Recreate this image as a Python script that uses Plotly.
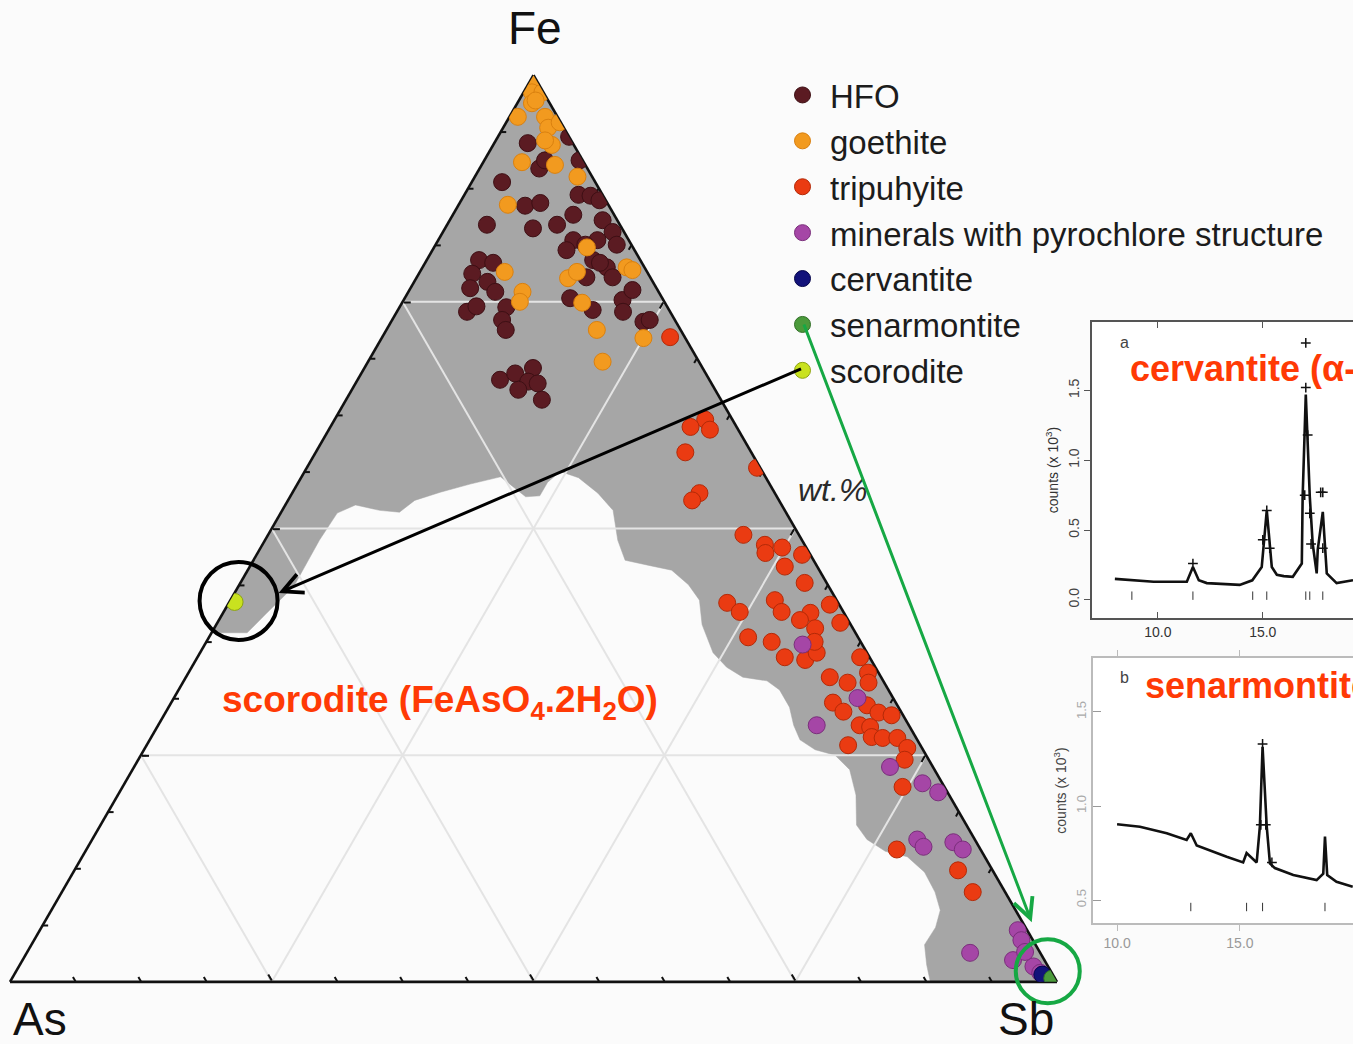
import math
import plotly.graph_objects as go

W, H = 1353, 1044
FONT = "Liberation Sans, Arial, sans-serif"

# ---- composition data (wt.%): Fe and Sb given, As is the remainder ----
hfo_fe = [92.5, 93.2, 90.6, 89.7, 88.2, 85.6, 85.9, 86.8, 86.7, 86.2, 84.6, 83.5, 83.1,
          83.5, 84.0, 82.7, 81.8, 81.8, 81.3, 80.7, 81.3, 79.6, 79.3, 78.1, 76.5, 77.2,
          76.1, 73.9, 74.5, 74.4, 73.0, 71.9, 79.6, 78.8, 77.7, 77.7, 75.4, 74.1, 75.2,
          76.3, 73.9, 72.8, 73.0, 66.4, 67.1, 67.7, 66.2, 65.3, 66.0, 64.2, 90.6, 79.3]
hfo_sb = [3.2, 6.8, 9.1, 5.7, 2.9, 6.4, 7.7, 10.9, 12.1, 13.2, 11.5, 3.8, 8.4,
          10.5, 14.6, 16.2, 12.9, 15.2, 17.3, 12.8, 14.3, 5.0, 6.5, 5.1, 5.7, 7.0,
          8.3, 6.7, 7.3, 10.2, 10.5, 11.4, 15.9, 17.6, 18.7, 16.2, 15.8, 18.6, 20.9,
          21.3, 21.6, 24.1, 24.6, 13.6, 14.7, 16.1, 16.4, 15.9, 17.4, 18.7, 5.8, 16.7]

goe_fe = [99.6, 98.1, 98.1, 96.9, 95.4, 95.4, 94.2, 94.8, 92.3, 90.4, 90.1, 88.8, 85.7,
          78.3, 76.1, 75.0, 77.6, 78.3, 78.8, 78.5, 74.9, 71.9, 71.0, 68.4, 81.0, 97.2, 92.8]
goe_sb = [0.2, 0.8, 1.8, 1.4, 0.8, 3.4, 4.3, 5.1, 5.6, 3.7, 7.0, 9.8, 4.7,
          8.1, 10.9, 11.2, 14.5, 15.0, 19.5, 20.2, 17.2, 20.1, 25.0, 22.4, 14.6, 1.6, 4.7]

tri_fe = [71.1, 62.0, 61.2, 60.9, 58.4, 56.7, 53.9, 53.1, 49.3, 48.2, 47.9, 47.3, 47.1,
          45.8, 44.0, 41.8, 40.8, 42.1, 40.8, 40.7, 41.6, 39.9, 39.0, 39.6, 38.0, 37.5,
          35.8, 35.5, 36.3, 37.5, 35.8, 33.6, 33.0, 34.1, 33.0, 30.8, 29.8, 30.5, 29.7,
          29.4, 28.3, 28.1, 27.0, 26.9, 26.9, 25.8, 26.1, 24.5, 21.5, 14.6, 12.3, 9.9]
tri_sb = [27.5, 35.4, 34.4, 36.4, 35.3, 43.0, 38.9, 38.6, 45.4, 48.0, 49.8, 48.5, 52.1,
          51.1, 53.9, 47.6, 49.3, 52.0, 53.3, 56.1, 57.5, 55.5, 57.4, 59.5, 51.5, 54.0,
          56.1, 58.2, 58.9, 58.1, 63.3, 61.5, 63.5, 64.9, 65.5, 63.2, 64.7, 66.6, 68.1,
          69.5, 67.0, 68.1, 68.8, 69.9, 71.3, 72.8, 67.0, 73.2, 74.5, 77.4, 84.4, 87.0]

pyr_fe = [37.2, 31.3, 28.3, 23.7, 21.9, 20.9, 15.7, 14.9, 15.4, 14.6, 5.7, 4.6, 3.2,
          2.4, 1.7, 1.0, 3.3]
pyr_sb = [57.1, 65.3, 62.9, 72.2, 76.2, 78.2, 78.8, 79.8, 82.4, 83.7, 93.4, 94.3, 90.1,
          94.6, 96.9, 97.9, 95.3]

cer_fe, cer_sb = [0.8], [98.2]
sen_fe, sen_sb = [0.4], [99.3]
sco_fe, sco_sb = [41.9], [0.5]

# outline of the field covered by all analyses (Fe, Sb)
field_fe = [100, 38.5, 38.5, 40.7, 43.6, 48.7, 51.7, 52.6, 52.0, 51.8, 53.1, 54.0, 54.9,
            55.7, 54.7, 53.5, 53.6, 55.1, 56.3, 55.6, 53.9, 52.0, 48.7, 46.5, 45.9, 45.4,
            43.8, 42.1, 39.4, 36.3, 34.7, 33.6, 33.2, 32.2, 30.3, 28.3, 26.7, 25.6, 25.0,
            23.4, 20.6, 17.3, 15.7, 14.4, 13.8, 12.1, 9.9, 7.9, 6.0, 4.1, 1.9, 0, 0, 100]
field_sb = [0, 0, 3.4, 4.2, 5.3, 5.2, 5.4, 6.7, 9.3, 11.3, 12.1, 14.1, 16.5,
            19.0, 20.6, 22.5, 23.8, 23.8, 24.4, 26.5, 29.2, 31.6, 33.7, 35.5, 38.2, 40.5,
            42.9, 44.8, 46.4, 49.0, 51.1, 53.2, 55.7, 57.4, 59.3, 60.7, 62.1, 64.1, 66.3,
            68.5, 70.5, 72.2, 74.0, 76.4, 78.8, 81.3, 83.4, 84.9, 85.4, 85.3, 86.6, 87.9, 100, 0]

# ---- XRD patterns (2theta, counts x 10^3) ----
xrd_a_tt = [7.95, 8.8, 9.8, 10.8, 11.38, 11.67, 11.95, 12.33, 13.2, 13.9, 14.5, 14.95, 15.19,
            15.43, 15.67, 16.0, 16.43, 16.86, 16.9, 17.05, 17.24, 17.38, 17.57, 17.62, 17.86,
            18.05, 18.52, 19.3]
xrd_a_ct = [0.15, 0.14, 0.13, 0.13, 0.13, 0.235, 0.14, 0.12, 0.115, 0.107, 0.14, 0.235, 0.64,
            0.235, 0.18, 0.17, 0.165, 0.26, 0.74, 1.47, 0.74, 0.40, 0.19, 0.36, 0.63,
            0.19, 0.12, 0.14]
xrd_a_obs_tt = [11.67, 15.0, 15.19, 15.33, 17.0, 17.05, 17.14, 17.24, 17.3, 17.76, 17.86, 17.86, 17.05]
xrd_a_obs_ct = [0.26, 0.43, 0.64, 0.37, 0.75, 1.52, 1.18, 0.62, 0.40, 0.77, 0.77, 0.37, 1.84]
bragg_a = [8.76, 11.67, 14.52, 15.19, 17.05, 17.24, 17.86]

xrd_b_tt = [10.0, 10.93, 12.02, 12.83, 13.0, 13.24, 14.46, 15.13, 15.27, 15.68, 15.81, 15.92,
            16.09, 16.22, 16.42, 17.17, 18.12, 18.39, 18.46, 18.55, 18.93, 19.59]
xrd_b_ct = [0.903, 0.89, 0.855, 0.82, 0.855, 0.79, 0.73, 0.70, 0.75, 0.70, 0.89, 1.315,
            0.89, 0.695, 0.67, 0.633, 0.606, 0.64, 0.837, 0.633, 0.597, 0.571]
xrd_b_obs_tt = [15.92, 15.85, 16.05, 16.3]
xrd_b_obs_ct = [1.33, 0.90, 0.90, 0.70]
bragg_b = [13.0, 15.27, 15.92, 18.46]

series = [
    ("HFO", hfo_fe, hfo_sb, "#5b1b22", "#3e1015", 17),
    ("goethite", goe_fe, goe_sb, "#f29a1f", "#d98010", 17),
    ("tripuhyite", tri_fe, tri_sb, "#ea3b12", "#b32a08", 17),
    ("minerals with pyrochlore structure", pyr_fe, pyr_sb, "#a546a6", "#7a2f7b", 17),
    ("cervantite", cer_fe, cer_sb, "#12127a", "#05054a", 17),
    ("senarmontite", sen_fe, sen_sb, "#4b9a3b", "#2f6e25", 16),
    ("scorodite", sco_fe, sco_sb, "#c9e21f", "#8da312", 17),
]

# ternary placement (same domain for both ternary layers)
TX = [10 / W, 1057 / W]
TY = [1 - 982 / H, 1 - 75 / H]


def tern_to_paper(fe, sb):
    """Pixel position of a composition, following plotly's ternary fitting."""
    xc, yc = sum(TX) / 2, sum(TY) / 2
    wmax, hmax = (TX[1] - TX[0]) * W, (TY[1] - TY[0]) * H
    r = 2 / math.sqrt(3)
    if wmax > r * hmax:
        h = hmax
        w = h * r
    else:
        w = wmax
        h = w / r
    x0 = W * xc - w / 2
    ytop = H * (1 - yc) - h / 2
    px = x0 + w * (sb / 100 + fe / 200)
    py = ytop + h * (1 - fe / 100)
    return px, py


def px2paper(px, py):
    return px / W, 1 - py / H


fig = go.Figure()

# grey field (bottom ternary layer)
fig.add_trace(go.Scatterternary(
    a=field_fe, c=field_sb, sum=100, mode="lines", fill="toself",
    fillcolor="#a6a6a6", line=dict(color="#a6a6a6", width=0.5),
    showlegend=False, hoverinfo="skip", subplot="ternary"))

# analyses (top ternary layer)
for name, fe, sb, col, edge, size in series:
    fig.add_trace(go.Scatterternary(
        a=fe, c=sb, sum=100, mode="markers", name=name, legendgroup=name,
        marker=dict(size=size, color=col, line=dict(color=edge, width=1)),
        hoverinfo="skip", subplot="ternary2"))

# XRD inset a (cervantite)
fig.add_trace(go.Scatter(x=xrd_a_tt, y=xrd_a_ct, mode="lines", line=dict(color="#111", width=2.6),
                         showlegend=False, hoverinfo="skip", xaxis="x", yaxis="y"))
fig.add_trace(go.Scatter(x=xrd_a_obs_tt, y=xrd_a_obs_ct, mode="markers",
                         marker=dict(symbol="cross-thin", size=7, line=dict(color="#111", width=1.5)),
                         showlegend=False, hoverinfo="skip", xaxis="x", yaxis="y"))
fig.add_trace(go.Scatter(x=bragg_a, y=[0.03] * len(bragg_a), mode="markers",
                         marker=dict(symbol="line-ns", size=6, line=dict(color="#333", width=1)),
                         showlegend=False, hoverinfo="skip", xaxis="x", yaxis="y"))

# XRD inset b (senarmontite)
fig.add_trace(go.Scatter(x=xrd_b_tt, y=xrd_b_ct, mode="lines", line=dict(color="#111", width=2.6),
                         showlegend=False, hoverinfo="skip", xaxis="x2", yaxis="y2"))
fig.add_trace(go.Scatter(x=xrd_b_obs_tt, y=xrd_b_obs_ct, mode="markers",
                         marker=dict(symbol="cross-thin", size=7, line=dict(color="#111", width=1.5)),
                         showlegend=False, hoverinfo="skip", xaxis="x2", yaxis="y2"))
fig.add_trace(go.Scatter(x=bragg_b, y=[0.463] * len(bragg_b), mode="markers",
                         marker=dict(symbol="line-ns", size=6, line=dict(color="#333", width=1)),
                         showlegend=False, hoverinfo="skip", xaxis="x2", yaxis="y2"))


def tern_axis(**kw):
    base = dict(title=dict(text=""), showticklabels=False, min=0)
    base.update(kw)
    return base


GRID = "#e4e4e4"
minor = dict(showgrid=False, showline=False, ticks="inside", ticklen=5, dtick=6.25,
             tickcolor="#111", tickwidth=1.5, layer="above traces")
major = dict(showgrid=True, gridcolor=GRID, gridwidth=1.5, dtick=25, showline=True,
             linecolor="#111", linewidth=2.6, ticks="inside", ticklen=7,
             tickcolor="#111", tickwidth=2, layer="below traces")

fig.update_layout(
    width=W, height=H, autosize=False,
    margin=dict(l=0, r=0, t=0, b=0),
    paper_bgcolor="#fbfbfb", plot_bgcolor="#ffffff",
    font=dict(family=FONT, color="#222"),
    ternary=dict(
        domain=dict(x=TX, y=TY), sum=100, bgcolor="#fbfbfb",
        aaxis=tern_axis(**minor), baxis=tern_axis(**minor), caxis=tern_axis(**minor),
    ),
    ternary2=dict(
        domain=dict(x=TX, y=TY), sum=100, bgcolor="rgba(0,0,0,0)",
        aaxis=tern_axis(**major), baxis=tern_axis(**major), caxis=tern_axis(**major),
    ),
    legend=dict(
        x=775 / W, y=1 - 67 / H, xanchor="left", yanchor="top",
        bgcolor="rgba(0,0,0,0)", tracegroupgap=0, itemwidth=45,
        font=dict(family=FONT, size=33, color="#1c1c1c"),
        itemclick=False, itemdoubleclick=False,
    ),
    # inset a
    xaxis=dict(domain=[1092 / W, 1.0], anchor="y", range=[6.86, 19.3],
               tickvals=[10, 15], tickformat=".1f", showgrid=False, zeroline=False,
               showline=True, linecolor="#555", linewidth=1.5, mirror="ticks",
               ticks="inside", ticklen=6, tickcolor="#555",
               tickfont=dict(size=14, color="#333")),
    yaxis=dict(domain=[1 - 618 / H, 1 - 322 / H], anchor="x", range=[-0.13, 1.99],
               tickvals=[0, 0.5, 1.0, 1.5], tickformat=".1f", tickangle=-90,
               showgrid=False, zeroline=False, showline=True, linecolor="#555", linewidth=1.5,
               ticks="outside", ticklen=6, tickcolor="#555",
               tickfont=dict(size=14, color="#444"),
               title=dict(text="counts (x 10<sup>3</sup>)", font=dict(size=14, color="#333"),
                          standoff=4)),
    # inset b
    xaxis2=dict(domain=[1093 / W, 1.0], anchor="y2", range=[9.02, 19.6],
                tickvals=[10, 15], tickformat=".1f", showgrid=False, zeroline=False,
                showline=True, linecolor="#bbb", linewidth=1.5, mirror="ticks",
                ticks="outside", ticklen=6, tickcolor="#bbb",
                tickfont=dict(size=14, color="#999")),
    yaxis2=dict(domain=[1 - 923 / H, 1 - 658 / H], anchor="x2", range=[0.378, 1.787],
                tickvals=[0.5, 1.0, 1.5], tickformat=".1f", tickangle=-90,
                showgrid=False, zeroline=False, showline=True, linecolor="#bbb", linewidth=1.5,
                ticks="inside", ticklen=8, tickcolor="#999",
                tickfont=dict(size=13, color="#aaa"),
                title=dict(text="counts (x 10<sup>3</sup>)", font=dict(size=14, color="#444"),
                           standoff=4)),
)

ann = []


def text_at(px, py, text, size, color="#111", xanchor="center", bold=False, italic=False):
    x, y = px2paper(px, py)
    t = f"<b>{text}</b>" if bold else text
    t = f"<i>{t}</i>" if italic else t
    ann.append(dict(x=x, y=y, xref="paper", yref="paper", text=t, showarrow=False,
                    xanchor=xanchor, yanchor="middle",
                    font=dict(family=FONT, size=size, color=color)))


# corner labels
text_at(535, 28, "Fe", 46)
text_at(11, 1019, "As", 46, xanchor="left")
text_at(1026, 1019, "Sb", 46)
text_at(832, 490, "wt.%", 32, color="#2a2a2a", italic=True)

RED = "#ff3a05"
text_at(220, 702, "scorodite (FeAsO<sub>4</sub>.2H<sub>2</sub>O)", 37, color=RED,
        xanchor="left", bold=True)
text_at(1128, 371, "cervantite (α-Sb<sub>2</sub>O<sub>4</sub>)", 36, color=RED,
        xanchor="left", bold=True)
text_at(1143, 688, "senarmontite (Sb<sub>2</sub>O<sub>3</sub>)", 36, color=RED,
        xanchor="left", bold=True)
text_at(1124, 342, "a", 16, color="#444")
text_at(1124, 677, "b", 16, color="#444")

# arrows from legend entries to the highlighted points
sco_px, sco_py = tern_to_paper(sco_fe[0], sco_sb[0])
sen_px, sen_py = tern_to_paper(sen_fe[0], sen_sb[0])

head_k = (sco_px + 44, sco_py - 9)
hx, hy = px2paper(*head_k)
ann.append(dict(x=hx, y=hy, xref="paper", yref="paper", text=" ", showarrow=True,
                ax=803 - head_k[0], ay=368 - head_k[1], arrowhead=5, arrowsize=1.3,
                arrowwidth=3, arrowcolor="#000", standoff=0, font=dict(size=2)))

GREEN = "#16a844"
head_g = (sen_px - 20, sen_py - 56)
gx, gy = px2paper(*head_g)
ann.append(dict(x=gx, y=gy, xref="paper", yref="paper", text=" ", showarrow=True,
                ax=803 - head_g[0], ay=322 - head_g[1], arrowhead=5, arrowsize=1.3,
                arrowwidth=3, arrowcolor=GREEN, standoff=0, font=dict(size=2)))

fig.update_layout(annotations=ann)

# circles around the scorodite and Sb-oxide points
cx, cy = px2paper(sco_px + 4, sco_py - 1)
gcx, gcy = px2paper(sen_px - 4, sen_py - 7)
fig.update_layout(shapes=[
    dict(type="circle", xref="paper", yref="paper", xsizemode="pixel", ysizemode="pixel",
         xanchor=cx, yanchor=cy, x0=-39, x1=39, y0=-39, y1=39,
         line=dict(color="#000", width=4)),
    dict(type="circle", xref="paper", yref="paper", xsizemode="pixel", ysizemode="pixel",
         xanchor=gcx, yanchor=gcy, x0=-32, x1=32, y0=-32, y1=32,
         line=dict(color=GREEN, width=4)),
])

fig.write_html("out.html")
